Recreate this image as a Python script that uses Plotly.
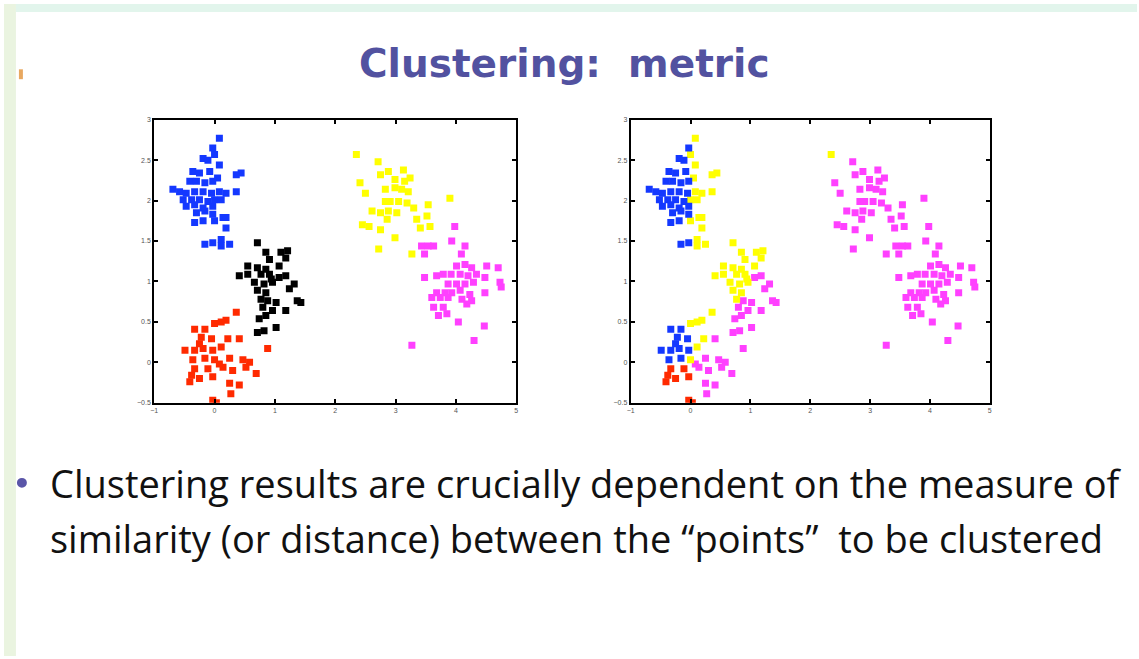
import plotly.graph_objects as go

# ---- data: points, grouped by left-panel cluster ----
blue_x = [0.08, -0.03, 0.00, -0.19, -0.11, 0.08, -0.36, -0.25, -0.08, 0.05, 0.44, 0.36,
          -0.41, -0.30, -0.16, -0.03, -0.69, -0.58, -0.47, -0.33, -0.19, -0.05, 0.08, 0.19,
          0.36, -0.52, -0.38, -0.25, -0.11, 0.00, 0.11, -0.47, -0.33, -0.19, -0.03, -0.30,
          -0.16, -0.03, 0.14, 0.19, -0.33, -0.19, 0.00, 0.19, -0.16, -0.03, 0.11, 0.25, 0.11]
blue_y = [2.77, 2.65, 2.57, 2.52, 2.50, 2.44, 2.36, 2.34, 2.36, 2.28, 2.34, 2.32,
          2.24, 2.24, 2.22, 2.24, 2.14, 2.11, 2.09, 2.11, 2.11, 2.09, 2.11, 2.09,
          2.11, 2.01, 2.01, 2.01, 1.99, 2.01, 2.01, 1.93, 1.95, 1.91, 1.93, 1.85,
          1.87, 1.83, 1.79, 1.79, 1.73, 1.75, 1.75, 1.66, 1.46, 1.48, 1.44, 1.46, 1.52]
blue_right = "ybybbybbbyyybbbbbbbbbbyyybbbbyybbbbbbbyybbyybbyyy"

black_x = [0.71, 0.85, 1.10, 1.21, 0.91, 1.18, 0.55, 0.71, 0.85, 0.41, 0.55, 0.77, 0.91,
           1.07, 1.18, 0.66, 0.82, 0.96, 1.32, 0.71, 0.85, 1.24, 0.77, 0.88, 1.02, 1.43,
           1.37, 0.80, 0.96, 1.18, 0.85, 0.74, 1.02, 0.71, 0.82, 1.07, 0.94]
black_y = [1.48, 1.36, 1.36, 1.38, 1.27, 1.29, 1.19, 1.17, 1.15, 1.07, 1.09, 1.09, 1.09,
           1.05, 1.07, 0.99, 0.97, 0.99, 0.97, 0.89, 0.86, 0.91, 0.78, 0.76, 0.74, 0.74,
           0.76, 0.68, 0.64, 0.64, 0.58, 0.54, 0.43, 0.37, 0.39, 1.19, 1.03]
black_right = "yyyyyyyyyyyyymmyyymyymymmmmmmmmmmmmyy"

red_x = [0.36, 0.19, 0.11, 0.00, -0.33, -0.16, -0.22, -0.05, 0.22, 0.41, -0.49, -0.33,
         -0.19, -0.03, 0.11, 0.88, -0.36, -0.16, 0.00, 0.25, 0.47, 0.58, -0.33, -0.11,
         0.14, 0.30, 0.52, 0.69, -0.41, -0.25, -0.03, 0.25, 0.41, 0.27, -0.03, 0.03,
         -0.38, 0.08, -0.25]
red_y = [0.62, 0.52, 0.50, 0.48, 0.41, 0.41, 0.31, 0.29, 0.29, 0.29, 0.15, 0.15,
         0.17, 0.15, 0.19, 0.17, 0.03, 0.05, 0.03, 0.05, 0.03, 0.00, -0.08, -0.08,
         -0.06, -0.10, -0.06, -0.14, -0.24, -0.20, -0.18, -0.26, -0.28, -0.39, -0.47, -0.50,
         -0.16, -0.02, 0.23]
red_right = "yyyybbbbymbbbbymbbymmmrrmmmmrrrmmmrrrmb"

yellow_x = [2.35, 2.71, 2.88, 3.13, 3.24, 2.75, 2.41, 2.50, 2.83, 2.99, 3.10, 3.21,
            2.91, 3.05, 3.19, 3.30, 3.90, 3.54, 2.61, 2.75, 2.88, 3.02, 3.35, 3.52,
            2.45, 2.86, 2.56, 2.75, 2.99, 3.57, 2.72, 3.27, 3.41, 2.99, 3.15, 2.83]
yellow_y = [2.57, 2.48, 2.36, 2.38, 2.28, 2.32, 2.22, 2.09, 2.14, 2.16, 2.14, 2.11,
            1.99, 1.99, 1.97, 1.91, 2.03, 1.95, 1.87, 1.85, 1.87, 1.85, 1.77, 1.81,
            1.70, 1.77, 1.68, 1.64, 1.54, 1.68, 1.40, 1.34, 1.66, 2.26, 2.24, 1.99]
yellow_right = "ymmmmmmmmmmmmmmmmmmmmmmmmmmmmmmmmmmm"

magenta_x = [3.98, 3.93, 3.43, 3.54, 3.63, 4.15, 3.48, 4.09, 4.01, 4.15, 4.26, 4.51,
             4.70, 3.48, 3.68, 3.79, 3.92, 4.07, 4.20, 4.34, 4.73, 4.75, 3.87, 4.01,
             4.15, 4.29, 3.68, 3.82, 3.93, 4.07, 4.23, 4.48, 3.60, 3.74, 3.87, 4.10,
             4.26, 3.63, 3.79, 4.18, 3.71, 3.85, 4.04, 4.47, 4.30, 3.27, 4.48]
magenta_y = [1.68, 1.50, 1.44, 1.44, 1.44, 1.44, 1.34, 1.34, 1.19, 1.21, 1.17, 1.19,
             1.17, 1.05, 1.07, 1.09, 1.09, 1.09, 1.07, 1.09, 0.99, 0.93, 0.97, 0.97,
             0.97, 0.99, 0.86, 0.86, 0.86, 0.89, 0.84, 0.86, 0.80, 0.80, 0.80, 0.78,
             0.76, 0.68, 0.68, 0.72, 0.58, 0.60, 0.50, 0.45, 0.27, 0.21, 1.05]
magenta_right = "m" * len(magenta_x)

x_ticks = [-1, 0, 1, 2, 3, 4, 5]
y_ticks = [-0.5, 0, 0.5, 1, 1.5, 2, 2.5, 3]

title_text = "Clustering:  metric"
bullet_lines = ["Clustering results are crucially dependent on the measure of",
                "similarity (or distance) between the \u201cpoints\u201d  to be clustered"]

# ---- styling ----
COL = {"b": "#1438ff", "k": "#000000", "r": "#ff2a00", "y": "#ffff00", "m": "#ff40ff"}
W, H = 1139, 659
MS = 7

fig = go.Figure()

left_groups = [("b", blue_x, blue_y), ("k", black_x, black_y), ("r", red_x, red_y),
               ("y", yellow_x, yellow_y), ("m", magenta_x, magenta_y)]
for c, xs, ys in left_groups:
    fig.add_trace(go.Scatter(x=xs, y=ys, mode="markers", xaxis="x", yaxis="y",
                             marker=dict(symbol="square", size=MS, color=COL[c]),
                             showlegend=False, hoverinfo="skip"))

all_x = blue_x + black_x + red_x + yellow_x + magenta_x
all_y = blue_y + black_y + red_y + yellow_y + magenta_y
all_lab = blue_right + black_right + red_right + yellow_right + magenta_right
for c in ["m", "y", "b", "r"]:
    xs = [x for x, l in zip(all_x, all_lab) if l == c]
    ys = [y for y, l in zip(all_y, all_lab) if l == c]
    fig.add_trace(go.Scatter(x=xs, y=ys, mode="markers", xaxis="x2", yaxis="y2",
                             marker=dict(symbol="square", size=MS, color=COL[c]),
                             showlegend=False, hoverinfo="skip"))

def ax(domain, anchor, rng, tv):
    return dict(domain=domain, anchor=anchor, range=rng, tickvals=tv,
                showline=True, linecolor="black", linewidth=2, mirror="ticks",
                ticks="inside", ticklen=4, tickwidth=1.5, tickcolor="black",
                showgrid=False, zeroline=False,
                tickfont=dict(size=7, color="#555", family="Liberation Sans"))

ydom = [1 - 403 / H, 1 - 117 / H]
fig.update_layout(
    width=W, height=H, margin=dict(l=0, r=0, t=0, b=0),
    paper_bgcolor="white", plot_bgcolor="white", showlegend=False,
    xaxis=ax([151 / W, 515 / W], "y", [-1, 5], x_ticks),
    yaxis=ax(ydom, "x", [-0.5, 3], y_ticks),
    xaxis2=ax([630 / W, 991 / W], "y2", [-1, 5], x_ticks),
    yaxis2=ax(ydom, "x2", [-0.5, 3], y_ticks),
)

shapes = [
    dict(type="rect", xref="paper", yref="paper", x0=0, x1=12 / W, y0=0, y1=1,
         fillcolor="#eaf4e0", line_width=0, layer="below"),
    dict(type="rect", xref="paper", yref="paper", x0=12 / W, x1=1, y0=1 - 8 / H, y1=1,
         fillcolor="#e2f5ec", line_width=0, layer="below"),
    dict(type="circle", xref="paper", yref="paper", x0=13 / W, x1=23 / W,
         y0=1 - 489 / H, y1=1 - 479 / H, fillcolor="#5a55a8", line_width=0),
    dict(type="rect", xref="paper", yref="paper", x0=15 / W, x1=19 / W,
         y0=1 - 76 / H, y1=1 - 66 / H, fillcolor="#e8a860", line_width=0),
]
fig.update_layout(shapes=shapes)

fig.add_annotation(text=title_text, xref="paper", yref="paper", x=563 / W, y=1 - 60 / H,
                   xanchor="center", yanchor="middle", showarrow=False,
                   font=dict(family="DejaVu Sans", size=39, color="#5252a0", weight="bold"))
for i, line in enumerate(bullet_lines):
    fig.add_annotation(text=line, xref="paper", yref="paper", x=44 / W, y=1 - (484 + 56 * i) / H,
                       xanchor="left", yanchor="middle", showarrow=False,
                       font=dict(family="Open Sans", size=38, color="#111111"))

fig.write_html("out.html")
